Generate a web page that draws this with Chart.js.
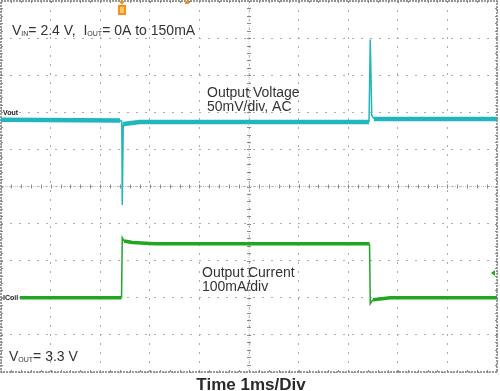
<!DOCTYPE html>
<html>
<head>
<meta charset="utf-8">
<script src="https://cdn.jsdelivr.net/npm/chart.js@4.4.1/dist/chart.umd.min.js"></script>
<style>
  html, body { margin: 0; padding: 0; background: #fff; }
  #wrap { width: 500px; height: 391px; }
</style>
</head>
<body>
<div id="wrap"><canvas id="scope"></canvas></div>
<script>
// time in ms (1 ms/div), voltage in mV (AC, 50 mV/div), current in mA (100 mA/div)
const vTime = [0, 2.40, 2.435, 2.445, 2.465, 2.55, 2.8, 7.42, 7.445, 7.475, 7.52, 7.8, 10];
const vOut  = [0, -1, -2, -115, -6, -5, -3, -3, 108, 6, 1, 1, 1];
const iTime = [0.38, 2.43, 2.445, 2.48, 2.65, 3.1, 7.43, 7.445, 7.5, 7.85, 10];
const iOut  = [0, 0, 162, 153, 149, 146, 146, -16, -5, 0, 0];
const trigTime = 2.44;

const FONT = '"Liberation Sans", Arial, sans-serif';

const pts = (ts, vs) => ts.map((t, i) => ({ x: t, y: vs[i] }));
const steep = (w) => (c) => Math.abs(c.p1.x - c.p0.x) < 3 ? 1.5 : w;

function drawParts(ctx, parts, x, y, size) {
    for (const [txt, sub] of parts) {
        ctx.font = (sub ? Math.round(size / 2) : size) + 'px ' + FONT;
        ctx.fillText(txt, x, sub ? y + 1 : y);
        x += ctx.measureText(txt).width;
    }
}

const scopeDecor = {
    id: 'scopeDecor',
    beforeDatasetsDraw(chart) {
        const { ctx, chartArea: a, scales } = chart;
        const x = scales.x, g = scales.grid;
        const cx = x.getPixelForValue(5), cy = g.getPixelForValue(5);
        ctx.save();
        ctx.strokeStyle = '#c4c4c4';
        ctx.lineWidth = 1;
        ctx.setLineDash([1, 1]);
        ctx.beginPath();
        ctx.moveTo(a.left, cy); ctx.lineTo(a.right, cy);
        ctx.moveTo(cx, a.top); ctx.lineTo(cx, a.bottom);
        ctx.stroke();
        ctx.setLineDash([]);
        ctx.strokeStyle = '#8a8a8a';
        ctx.beginPath();
        for (let k = 1; k < 50; k++) {
            const px = Math.round(x.getPixelForValue(k * 0.2)) + 0.5;
            const py = Math.round(g.getPixelForValue(k * 0.2)) + 0.5;
            ctx.moveTo(px, cy - 2); ctx.lineTo(px, cy + 2);
            ctx.moveTo(cx - 2, py); ctx.lineTo(cx + 2, py);
            ctx.moveTo(px, a.top); ctx.lineTo(px, a.top + 2);
            ctx.moveTo(px, a.bottom); ctx.lineTo(px, a.bottom - 2);
            ctx.moveTo(a.left, py); ctx.lineTo(a.left + 2, py);
            ctx.moveTo(a.right, py); ctx.lineTo(a.right - 2, py);
        }
        ctx.stroke();
        ctx.strokeStyle = '#7a7a7a';
        ctx.lineWidth = 1.5;
        ctx.setLineDash([2, 1]);
        ctx.strokeRect(a.left, a.top, a.right - a.left, a.bottom - a.top);
        ctx.restore();
    },
    afterDatasetsDraw(chart) {
        const { ctx, chartArea: a, scales } = chart;
        ctx.save();
        ctx.fillStyle = '#333';
        ctx.textBaseline = 'alphabetic';
        drawParts(ctx, [['V', 0], ['IN', 1], ['= 2.4 V,  I', 0], ['OUT', 1], ['= 0A to 150mA', 0]], 12, 35, 14);
        drawParts(ctx, [['V', 0], ['OUT', 1], ['= 3.3 V', 0]], 9, 361, 14);
        ctx.font = '14px ' + FONT;
        ctx.fillText('Output Voltage', 207, 97);
        ctx.fillText('50mV/div, AC', 207, 111);
        ctx.fillText('Output Current', 202, 277);
        ctx.fillText('100mA/div', 202, 291);

        ctx.fillStyle = '#222';
        ctx.font = 'bold 7px ' + FONT;
        ctx.fillText('Vout', 3, 115);
        ctx.fillText('ICoil', 3, 300);

        ctx.fillStyle = '#2a2a2a';
        ctx.font = 'bold 17px ' + FONT;
        ctx.textAlign = 'center';
        ctx.fillText('Time 1ms/Div', 251, 390);

        // trigger marker
        const tx = scales.x.getPixelForValue(trigTime);
        ctx.fillStyle = '#f0921a';
        ctx.beginPath();
        ctx.moveTo(tx - 3, a.top); ctx.lineTo(tx + 3, a.top); ctx.lineTo(tx, a.top + 4);
        ctx.fill();
        ctx.fillRect(tx - 4, a.top + 4, 8, 10);
        ctx.fillStyle = '#f8c868';
        ctx.fillRect(tx - 2, a.top + 6, 4, 6);
        ctx.fillStyle = '#f0921a';
        const tx2 = scales.x.getPixelForValue(3.75);
        ctx.fillRect(tx2 - 2, a.top, 4, 3);

        // channel 2 marker at right edge
        ctx.fillStyle = '#22a822';
        const my = scales.yI.getPixelForValue(67);
        ctx.beginPath();
        ctx.moveTo(a.right - 6, my); ctx.lineTo(a.right - 2, my - 3); ctx.lineTo(a.right - 2, my + 3);
        ctx.fill();
        ctx.restore();
    }
};

const gridOpts = { color: '#ababab', lineWidth: 1, drawTicks: false };

new Chart(document.getElementById('scope'), {
    type: 'line',
    data: {
        datasets: [
            {
                label: 'Output Voltage',
                data: pts(vTime, vOut),
                yAxisID: 'yV',
                borderColor: '#20b6be',
                borderWidth: 4.5,
                pointRadius: 0,
                tension: 0,
                segment: { borderWidth: steep(4.5) },
            },
            {
                label: 'Output Current',
                data: pts(iTime, iOut),
                yAxisID: 'yI',
                borderColor: '#20a620',
                borderWidth: 3.5,
                pointRadius: 0,
                tension: 0,
                segment: { borderWidth: steep(3.5) },
            },
        ],
    },
    options: {
        responsive: true,
        maintainAspectRatio: false,
        animation: false,
        devicePixelRatio: 1,
        layout: { padding: { left: 1, top: 1, right: 3, bottom: 19 } },
        plugins: {
            legend: { display: false },
            tooltip: { enabled: false },
        },
        scales: {
            x: {
                type: 'linear', min: 0, max: 10,
                ticks: { display: false, stepSize: 1 },
                grid: gridOpts,
                border: { display: false, dash: [2, 7] },
            },
            grid: {
                type: 'linear', position: 'left', min: 0, max: 10,
                ticks: { display: false, stepSize: 1 },
                grid: gridOpts,
                border: { display: false, dash: [2, 7] },
            },
            yV: { type: 'linear', display: false, min: -340, max: 160 },
            yI: { type: 'linear', display: false, min: -200, max: 800 },
        },
    },
    plugins: [scopeDecor],
});
</script>
</body>
</html>
